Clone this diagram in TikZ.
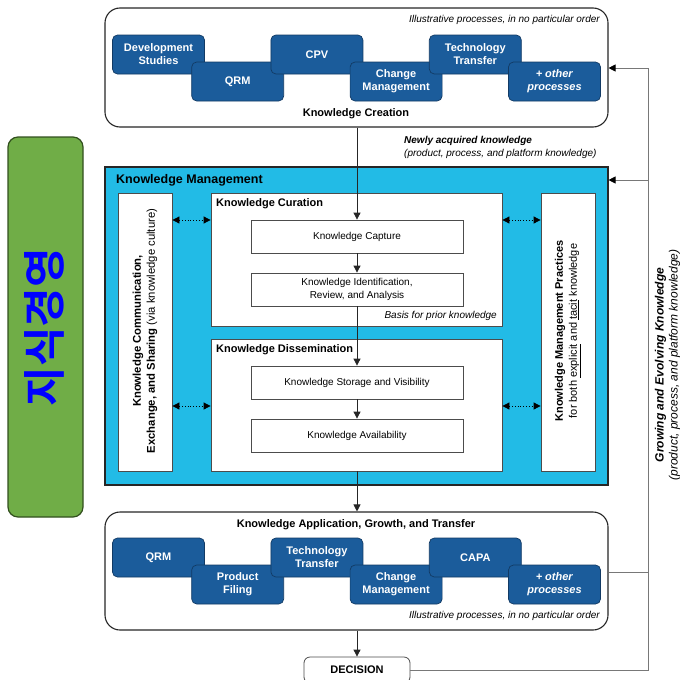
\documentclass[tikz,border=0pt]{standalone}
\usepackage{fontspec}
\setmainfont{Liberation Sans}
\newfontfamily\krfont{Noto Sans CJK KR}[BoldFont={Noto Sans CJK KR Bold}]
\usetikzlibrary{arrows.meta}
\definecolor{procblue}{RGB}{27,92,155}
\definecolor{procdark}{RGB}{18,58,100}
\definecolor{kmcyan}{RGB}{34,187,230}
\definecolor{greenfill}{RGB}{112,173,71}
\definecolor{greendraw}{RGB}{50,80,30}
\definecolor{fbgray}{RGB}{120,120,120}
\tikzset{
  procbox/.style={draw=procdark, fill=procblue, rounded corners=5pt, minimum width=92pt, minimum height=39pt, text=white, font=\bfseries\fontsize{11}{13}\selectfont, align=center, inner sep=0pt, line width=0.7pt},
  outerbox/.style={draw=black!85, fill=white, rounded corners=15pt, line width=1.1pt, inner sep=0pt},
  whitebox/.style={draw=black!70, fill=white, line width=0.8pt, inner sep=0pt},
  stepbox/.style={draw=black!70, fill=white, line width=0.8pt, minimum width=212pt, minimum height=33pt, align=center, inner sep=0pt, font=\fontsize{10}{12.5}\selectfont},
  arr/.style={draw=black!85, line width=0.8pt, -{Triangle[length=7pt,width=7pt]}},
  dotarr/.style={draw=black, line width=0.8pt, dotted, {Triangle[length=7pt,width=7pt]}-{Triangle[length=7pt,width=7pt]}},
  fbline/.style={draw=fbgray, line width=0.8pt},
  fbarr/.style={draw=fbgray, line width=0.8pt, -{Triangle[length=7pt,width=7pt,color=black]}},
  title/.style={font=\bfseries\fontsize{11}{13}\selectfont, inner sep=0pt},
  note/.style={font=\itshape\fontsize{10}{12}\selectfont, inner sep=0pt},
}
\begin{document}
\begin{tikzpicture}[x=1pt,y=-1pt]
\useasboundingbox (0,0) rectangle (680,680);
\clip (0,0) rectangle (680,680);

% green side box
\node[draw=greendraw, fill=greenfill, rounded corners=10pt, line width=1.2pt, minimum width=75pt, minimum height=380pt, inner sep=0pt] (side) at (45.5,327) {};
\node[rotate=90, text=blue, font=\krfont\bfseries\fontsize{43}{46}\selectfont] (sidetext) at (44,327) {지식경영};

% Knowledge creation
\node[outerbox, minimum width=503pt, minimum height=119pt] (creation) at (356.5,67.5) {};
\node[note, anchor=east] (illus1) at (600,20) {Illustrative processes, in no particular order};
\node[procbox] (c1) at (158.5,54.5) {Development\\Studies};
\node[procbox] (c2) at (237.7,81.5) {QRM};
\node[procbox] (c3) at (316.9,54.5) {CPV};
\node[procbox] (c4) at (396.1,81.5) {Change\\Management};
\node[procbox] (c5) at (475.3,54.5) {Technology\\Transfer};
\node[procbox] (c6) at (554.5,81.5) {\textit{+ other}\\\textit{processes}};
\node[title] (creationlabel) at (356,114) {Knowledge Creation};

\node[font=\bfseries\itshape\fontsize{10}{12}\selectfont, anchor=west, inner sep=0pt] (newly1) at (404,141) {Newly acquired knowledge};
\node[note, anchor=west] (newly2) at (404,153.5) {(product, process, and platform knowledge)};

% Knowledge management
\node[draw=black!85, fill=kmcyan, line width=1.1pt, minimum width=503pt, minimum height=318pt, inner sep=0pt] (km) at (356.5,326) {};
\node[font=\bfseries\fontsize{12.5}{14}\selectfont, anchor=west, inner sep=0pt] (kmlabel) at (116,180) {Knowledge Management};
\node[whitebox, minimum width=54pt, minimum height=278pt] (leftbox) at (145,332) {};
\node[whitebox, minimum width=54pt, minimum height=278pt] (rightbox) at (568,332) {};
\node[rotate=90, align=center, font=\fontsize{11.3}{14}\selectfont] (lefttext) at (145,331) {\textbf{Knowledge Communication,}\\\textbf{Exchange, and Sharing} (via knowledge culture)};
\node[rotate=90, align=center, font=\fontsize{11}{14}\selectfont] (righttext) at (568,331) {\textbf{Knowledge Management Practices}\\for both \underline{explicit} and \underline{tacit} knowledge};

\node[whitebox, minimum width=291pt, minimum height=133pt] (curation) at (356.5,259.5) {};
\node[title, anchor=west] (curlabel) at (216,204) {Knowledge Curation};
\node[whitebox, minimum width=291pt, minimum height=132pt] (dissem) at (356.5,405) {};
\node[title, anchor=west] (dislabel) at (216,350) {Knowledge Dissemination};

\node[stepbox] (capture) at (357,236.5) {Knowledge Capture};
\node[stepbox] (ident) at (357,289.5) {Knowledge Identification,\\Review, and Analysis};
\node[note, anchor=east] (basis) at (497,316) {Basis for prior knowledge};
\node[stepbox] (storage) at (357,382.5) {Knowledge Storage and Visibility};
\node[stepbox] (avail) at (357,435.5) {Knowledge Availability};

% Knowledge application
\node[outerbox, minimum width=503pt, minimum height=118pt] (application) at (356.5,571) {};
\node[title] (applabel) at (356,525) {Knowledge Application, Growth, and Transfer};
\node[procbox] (a1) at (158.5,557.5) {QRM};
\node[procbox] (a2) at (237.7,584.5) {Product\\Filing};
\node[procbox] (a3) at (316.9,557.5) {Technology\\Transfer};
\node[procbox] (a4) at (396.1,584.5) {Change\\Management};
\node[procbox] (a5) at (475.3,557.5) {CAPA};
\node[procbox] (a6) at (554.5,584.5) {\textit{+ other}\\\textit{processes}};
\node[note, anchor=east] (illus2) at (600,616) {Illustrative processes, in no particular order};

\node[draw=black!70, fill=white, rounded corners=6pt, line width=0.8pt, minimum width=106pt, minimum height=26pt, inner sep=0pt, font=\bfseries\fontsize{11}{13}\selectfont] (decision) at (357,670) {DECISION};

% main flow arrows
\draw[arr] (creation.south -| capture.north) -- (capture.north);
\draw[arr] (capture) -- (ident);
\draw[arr] (ident) -- (storage);
\draw[arr] (storage) -- (avail);
\draw[arr] (dissem.south -| avail.south) -- (application.north -| avail.south);
\draw[arr] (application.south -| decision.north) -- (decision.north);

% dotted links
\coordinate (dy1) at (0,220);
\coordinate (dy2) at (0,406);
\draw[dotarr] (leftbox.east |- dy1) -- (curation.west |- dy1);
\draw[dotarr] (leftbox.east |- dy2) -- (dissem.west |- dy2);
\draw[dotarr] (curation.east |- dy1) -- (rightbox.west |- dy1);
\draw[dotarr] (dissem.east |- dy2) -- (rightbox.west |- dy2);

% feedback loop
\coordinate (fb1) at (648,68);
\coordinate (fb2) at (648,180);
\coordinate (fb3) at (648,572);
\draw[fbline] (decision.east) -| (fb1);
\draw[fbarr] (fb1) -- (fb1 -| creation.east);
\draw[fbarr] (fb2) -- (fb2 -| km.east);
\draw[fbline] (fb3 -| application.east) -- (fb3);
\node[rotate=90, align=center, font=\fontsize{12}{14}\selectfont] (growing) at (667.5,365) {\textbf{\textit{Growing and Evolving Knowledge}}\\\textit{(product, process, and platform knowledge)}};
\end{tikzpicture}
\end{document}
